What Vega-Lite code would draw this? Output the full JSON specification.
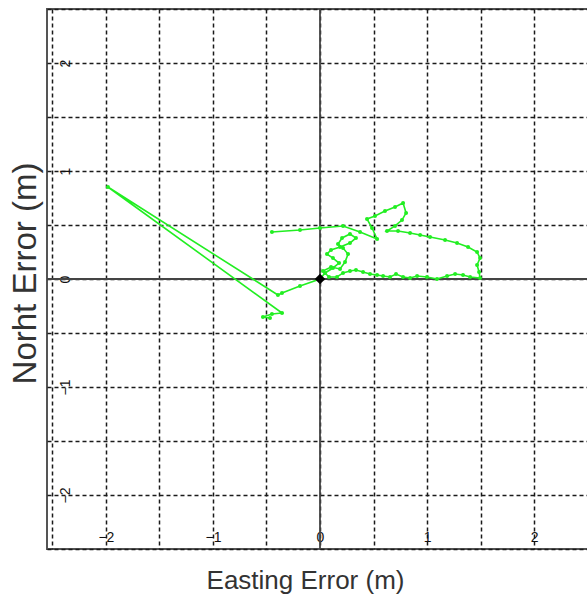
{
  "$schema": "https://vega.github.io/schema/vega-lite/v6.json",
  "width": 546,
  "height": 540,
  "autosize": {"type": "none"},
  "padding": {"left": 47, "top": 9, "right": 0, "bottom": 51},
  "background": "white",
  "config": {
    "view": {"stroke": "#555555", "strokeWidth": 2},
    "font": "Liberation Sans"
  },
  "datasets": {
    "track": [
      {"i": 1, "e": -0.449, "n": 0.435},
      {"i": 2, "e": -0.187, "n": 0.454},
      {"i": 3, "e": 0.0, "n": 0.472},
      {"i": 4, "e": 0.215, "n": 0.491},
      {"i": 5, "e": 0.374, "n": 0.435},
      {"i": 6, "e": 0.533, "n": 0.37},
      {"i": 7, "e": 0.486, "n": 0.472},
      {"i": 8, "e": 0.439, "n": 0.556},
      {"i": 9, "e": 0.514, "n": 0.583},
      {"i": 10, "e": 0.607, "n": 0.63},
      {"i": 11, "e": 0.701, "n": 0.667},
      {"i": 12, "e": 0.776, "n": 0.704},
      {"i": 13, "e": 0.804, "n": 0.611},
      {"i": 14, "e": 0.766, "n": 0.546},
      {"i": 15, "e": 0.701, "n": 0.491},
      {"i": 16, "e": 0.626, "n": 0.444},
      {"i": 17, "e": 0.729, "n": 0.444},
      {"i": 18, "e": 0.841, "n": 0.426},
      {"i": 19, "e": 0.935, "n": 0.407},
      {"i": 20, "e": 1.028, "n": 0.389},
      {"i": 21, "e": 1.168, "n": 0.361},
      {"i": 22, "e": 1.28, "n": 0.333},
      {"i": 23, "e": 1.383, "n": 0.296},
      {"i": 24, "e": 1.467, "n": 0.25},
      {"i": 25, "e": 1.495, "n": 0.194},
      {"i": 26, "e": 1.467, "n": 0.13},
      {"i": 27, "e": 1.486, "n": 0.065},
      {"i": 28, "e": 1.495, "n": 0.009},
      {"i": 29, "e": 1.402, "n": 0.019},
      {"i": 30, "e": 1.336, "n": 0.037},
      {"i": 31, "e": 1.262, "n": 0.046},
      {"i": 32, "e": 1.187, "n": 0.028},
      {"i": 33, "e": 1.093, "n": 0.0},
      {"i": 34, "e": 0.999, "n": 0.019},
      {"i": 35, "e": 0.907, "n": 0.028},
      {"i": 36, "e": 0.841, "n": 0.009},
      {"i": 37, "e": 0.776, "n": 0.019},
      {"i": 38, "e": 0.71, "n": 0.046},
      {"i": 39, "e": 0.654, "n": 0.019},
      {"i": 40, "e": 0.589, "n": 0.028},
      {"i": 41, "e": 0.533, "n": 0.037},
      {"i": 42, "e": 0.467, "n": 0.046},
      {"i": 43, "e": 0.402, "n": 0.065},
      {"i": 44, "e": 0.336, "n": 0.083},
      {"i": 45, "e": 0.28, "n": 0.074},
      {"i": 46, "e": 0.215, "n": 0.056},
      {"i": 47, "e": 0.159, "n": 0.019},
      {"i": 48, "e": 0.084, "n": 0.019},
      {"i": 49, "e": 0.028, "n": 0.074},
      {"i": 50, "e": 0.103, "n": 0.111},
      {"i": 51, "e": 0.187, "n": 0.093},
      {"i": 52, "e": 0.234, "n": 0.157},
      {"i": 53, "e": 0.262, "n": 0.231},
      {"i": 54, "e": 0.215, "n": 0.287},
      {"i": 55, "e": 0.168, "n": 0.324},
      {"i": 56, "e": 0.206, "n": 0.38},
      {"i": 57, "e": 0.28, "n": 0.417},
      {"i": 58, "e": 0.336, "n": 0.38},
      {"i": 59, "e": 0.28, "n": 0.333},
      {"i": 60, "e": 0.187, "n": 0.296},
      {"i": 61, "e": 0.103, "n": 0.269},
      {"i": 62, "e": 0.065, "n": 0.231},
      {"i": 63, "e": 0.121, "n": 0.194},
      {"i": 64, "e": 0.178, "n": 0.148},
      {"i": 65, "e": 0.121, "n": 0.102},
      {"i": 66, "e": 0.047, "n": 0.056},
      {"i": 67, "e": 0.0, "n": 0.0},
      {"i": 68, "e": -0.187, "n": -0.065},
      {"i": 69, "e": -0.355, "n": -0.13},
      {"i": 70, "e": -0.393, "n": -0.148},
      {"i": 71, "e": -1.981, "n": 0.852},
      {"i": 72, "e": -0.355, "n": -0.315},
      {"i": 73, "e": -0.449, "n": -0.324},
      {"i": 74, "e": -0.533, "n": -0.352},
      {"i": 75, "e": -0.467, "n": -0.361}
    ],
    "origin": [{"e": 0, "n": 0}]
  },
  "encoding": {
    "x": {
      "field": "e",
      "type": "quantitative",
      "scale": {"domain": [-2.55, 2.55], "nice": false, "zero": false},
      "axis": {
        "title": "Easting Error (m)",
        "values": [-2.5, -2, -1.5, -1, -0.5, 0, 0.5, 1, 1.5, 2, 2.5],
        "labelExpr": "datum.value % 1 === 0 ? format(datum.value, 'd') : ''",
        "domain": false,
        "ticks": false,
        "tickSize": 0,
        "labelPadding": -12,
        "labelBaseline": "middle",
        "labelFontSize": 14,
        "labelColor": "#111111",
        "grid": true,
        "gridDash": [4, 3],
        "gridColor": "#1a1a1a",
        "gridWidth": 1.5,
        "gridOpacity": 1,
        "titleFontSize": 26,
        "titleFontWeight": "normal",
        "titleColor": "#333333",
        "titleX": 258,
        "titleY": 31,
        "titleBaseline": "middle",
        "titleAnchor": "middle",
        "titleAlign": "center"
      }
    },
    "y": {
      "field": "n",
      "type": "quantitative",
      "scale": {"domain": [-2.5, 2.5], "nice": false, "zero": false},
      "axis": {
        "title": "Norht Error (m)",
        "values": [-2.5, -2, -1.5, -1, -0.5, 0, 0.5, 1, 1.5, 2, 2.5],
        "labelExpr": "datum.value % 1 === 0 ? format(datum.value, 'd') : ''",
        "domain": false,
        "ticks": false,
        "tickSize": 0,
        "labelAngle": -90,
        "labelAlign": "center",
        "labelBaseline": "middle",
        "labelPadding": -18,
        "labelFontSize": 14,
        "labelColor": "#111111",
        "grid": true,
        "gridDash": [4, 3],
        "gridColor": "#1a1a1a",
        "gridWidth": 1.5,
        "gridOpacity": 1,
        "titleFontSize": 33,
        "titleFontWeight": "normal",
        "titleColor": "#333333",
        "titleAngle": -90,
        "titleX": -22,
        "titleY": 264,
        "titleBaseline": "middle",
        "titleAlign": "center"
      }
    }
  },
  "layer": [
    {
      "data": {"values": [{"v": 0}]},
      "mark": {"type": "rule", "color": "#444444", "strokeWidth": 1.8},
      "encoding": {"x": {"field": "v", "type": "quantitative"}, "y": null}
    },
    {
      "data": {"values": [{"v": 0}]},
      "mark": {"type": "rule", "color": "#444444", "strokeWidth": 1.8},
      "encoding": {"y": {"field": "v", "type": "quantitative"}, "x": null}
    },
    {
      "data": {"name": "track"},
      "mark": {"type": "line", "color": "#22ee22", "strokeWidth": 1.6, "point": {"filled": true, "size": 16, "color": "#22ee22"}},
      "encoding": {"order": {"field": "i", "type": "quantitative"}}
    },
    {
      "data": {"name": "origin"},
      "mark": {"type": "point", "shape": "diamond", "filled": true, "color": "black", "size": 110, "opacity": 1}
    }
  ]
}
